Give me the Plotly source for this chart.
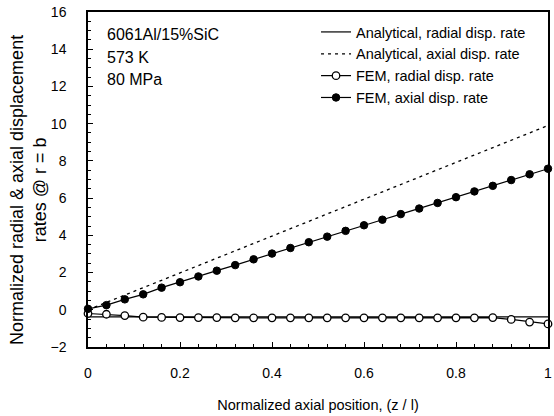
import plotly.graph_objects as go

# ---- data ----
z_fem = [0.00, 0.04, 0.08, 0.12, 0.16, 0.20, 0.24, 0.28, 0.32, 0.36, 0.40, 0.44, 0.48,
         0.52, 0.56, 0.60, 0.64, 0.68, 0.72, 0.76, 0.80, 0.84, 0.88, 0.92, 0.96, 1.00]
fem_axial = [0.05, 0.25, 0.56, 0.83, 1.19, 1.48, 1.79, 2.10, 2.40, 2.71, 3.02, 3.32, 3.63,
             3.93, 4.24, 4.54, 4.84, 5.14, 5.44, 5.74, 6.05, 6.36, 6.66, 6.97, 7.28, 7.58]
fem_radial = [-0.20, -0.24, -0.31, -0.40, -0.41, -0.42, -0.42, -0.42, -0.43, -0.43, -0.43, -0.43, -0.43,
              -0.43, -0.43, -0.43, -0.43, -0.43, -0.43, -0.43, -0.43, -0.43, -0.42, -0.52, -0.66, -0.76]
z_an = [0.0, 0.25, 0.5, 0.75, 1.0]
an_axial = [0.0, 2.47, 4.95, 7.42, 9.90]
an_radial = [-0.38, -0.38, -0.38, -0.38, -0.38]

x_ticks = [0, 0.2, 0.4, 0.6, 0.8, 1]
x_ticklabels = ["0", "0.2", "0.4", "0.6", "0.8", "1"]
y_ticks = [-2, 0, 2, 4, 6, 8, 10, 12, 14, 16]
notes = ["6061Al/15%SiC", "573 K", "80 MPa"]
y_title = "Normalized radial & axial displacement<br>rates @ r = b"
x_title = "Normalized axial position, (z / l)"

FONT = "Liberation Sans, Arial, sans-serif"
L, R, T, B = 88, 2, 12, 69
W, H = 554, 416
PW, PH = W - L - R, H - T - B

fig = go.Figure()
fig.add_trace(go.Scatter(x=z_an, y=an_radial, mode="lines", name="Analytical, radial disp. rate",
                         line=dict(color="black", width=1.2), cliponaxis=False))
fig.add_trace(go.Scatter(x=z_an, y=an_axial, mode="lines", name="Analytical, axial disp. rate",
                         line=dict(color="black", width=1.3, dash="3px,4px"), cliponaxis=False))
fig.add_trace(go.Scatter(x=z_fem, y=fem_radial, mode="lines+markers", name="FEM, radial disp. rate",
                         line=dict(color="black", width=1.2),
                         marker=dict(symbol="circle", size=7.5, color="white", line=dict(color="black", width=1.3)),
                         cliponaxis=False))
fig.add_trace(go.Scatter(x=z_fem, y=fem_axial, mode="lines+markers", name="FEM, axial disp. rate",
                         line=dict(color="black", width=1.2),
                         marker=dict(symbol="circle", size=7.5, color="black", line=dict(color="black", width=1)),
                         cliponaxis=False))

for i, t in enumerate(notes):
    fig.add_annotation(x=0.0, y=1, xref="paper", yref="paper", xanchor="left", yanchor="top",
                       xshift=17, yshift=-12 - 22.5 * i, text=t, showarrow=False,
                       font=dict(family=FONT, size=16, color="black"))

# y-axis title as a rotated annotation (centre at ~x=28, y=190 px)
fig.add_annotation(x=0, y=1 - (190 - T) / PH, xref="paper", yref="paper", xanchor="center", yanchor="middle",
                   xshift=28 - L, text=y_title, showarrow=False, textangle=-90,
                   font=dict(family=FONT, size=18, color="black"))

fig.update_layout(
    width=W, height=H,
    margin=dict(l=L, r=R, t=T, b=B),
    paper_bgcolor="white", plot_bgcolor="white",
    font=dict(family=FONT, size=14, color="black"),
    showlegend=True,
    legend=dict(x=(318 - L) / PW, y=1 - 4 / PH, xanchor="left", yanchor="top", bgcolor="rgba(0,0,0,0)",
                font=dict(family=FONT, size=14.5, color="black"), tracegroupgap=0),
    xaxis=dict(range=[0, 1], tickvals=x_ticks, ticktext=x_ticklabels, ticks="inside", ticklen=5,
               tickcolor="black", showline=True, linecolor="black", linewidth=1.5, mirror=True,
               showgrid=False, zeroline=False, ticklabelstandoff=12, ticklabeloverflow="allow",
               minor=dict(dtick=0.04, ticks="inside", ticklen=3, tickcolor="black", showgrid=False),
               title=dict(text=x_title, standoff=20, font=dict(family=FONT, size=14.5))),
    yaxis=dict(range=[-2, 16], tickvals=y_ticks, ticks="inside", ticklen=5, tickcolor="black",
               showline=True, linecolor="black", linewidth=1.5, mirror=True, showgrid=False,
               zeroline=False, ticklabelstandoff=17, ticklabeloverflow="allow",
               minor=dict(dtick=0.5, ticks="inside", ticklen=3, tickcolor="black", showgrid=False)),
)

fig.write_html("out.html", config={"displayModeBar": False},
               post_script="document.body.style.margin='0';")
